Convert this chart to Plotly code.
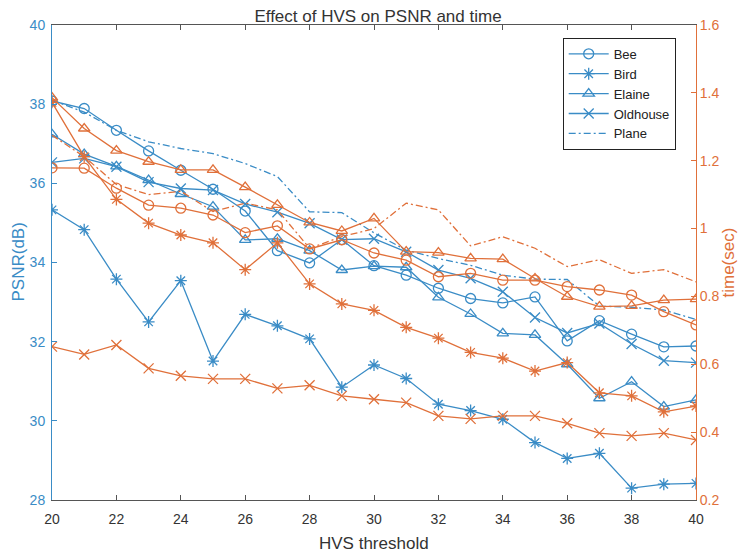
import plotly.graph_objects as go

thresholds = list(range(20, 41))

# PSNR (dB), left axis
bee_psnr = [38.08, 37.89, 37.34, 36.82, 36.33, 35.85, 35.30, 34.30, 33.99, 34.58, 33.92,
            33.68, 33.35, 33.09, 32.98, 33.13, 32.02, 32.53, 32.19, 31.87, 31.89]
bird_psnr = [35.33, 34.83, 33.58, 32.50, 33.54, 31.51, 32.69, 32.40, 32.07, 30.85, 31.41,
             31.07, 30.42, 30.26, 30.04, 29.45, 29.05, 29.18, 28.30, 28.40, 28.42]
elaine_psnr = [37.24, 36.74, 36.43, 36.08, 35.73, 35.41, 34.57, 34.60, 34.30, 33.81, 33.91,
               33.88, 33.12, 32.70, 32.21, 32.17, 31.43, 30.57, 30.99, 30.36, 30.53]
oldhouse_psnr = [36.53, 36.63, 36.42, 36.03, 35.87, 35.83, 35.48, 35.27, 34.99, 34.58, 34.60,
                 34.27, 33.81, 33.60, 33.26, 32.61, 32.22, 32.46, 31.94, 31.52, 31.47]
plane_psnr = [38.10, 37.80, 37.34, 37.05, 36.88, 36.75, 36.50, 36.17, 35.28, 35.26, 34.75,
              34.31, 34.10, 33.93, 33.68, 33.58, 33.57, 32.90, 32.87, 32.80, 32.56]

# time (sec), right axis
bee_time = [1.179, 1.178, 1.119, 1.069, 1.060, 1.040, 0.988, 1.008, 0.940, 0.967, 0.928,
            0.907, 0.858, 0.868, 0.848, 0.848, 0.829, 0.819, 0.804, 0.755, 0.716]
bird_time = [1.372, 1.212, 1.086, 1.016, 0.981, 0.958, 0.879, 0.958, 0.837, 0.778, 0.759,
             0.709, 0.677, 0.635, 0.618, 0.580, 0.605, 0.516, 0.507, 0.460, 0.477]
elaine_time = [1.386, 1.295, 1.230, 1.197, 1.173, 1.173, 1.122, 1.070, 1.018, 0.993, 1.030,
               0.932, 0.929, 0.912, 0.910, 0.853, 0.799, 0.770, 0.772, 0.789, 0.792]
oldhouse_time = [0.652, 0.629, 0.657, 0.588, 0.566, 0.557, 0.557, 0.529, 0.538, 0.507, 0.497,
                 0.487, 0.448, 0.439, 0.448, 0.448, 0.426, 0.397, 0.389, 0.397, 0.377]
plane_time = [1.275, 1.212, 1.130, 1.100, 1.110, 1.050, 1.075, 1.055, 0.942, 0.976, 1.000,
              1.075, 1.055, 0.949, 0.976, 0.942, 0.888, 0.908, 0.868, 0.879, 0.843]

names = ["Bee", "Bird", "Elaine", "Oldhouse", "Plane"]
symbols = ["circle-open", "asterisk-open", "triangle-up-open", "x-thin-open", None]
psnr = [bee_psnr, bird_psnr, elaine_psnr, oldhouse_psnr, plane_psnr]
times = [bee_time, bird_time, elaine_time, oldhouse_time, plane_time]

BLUE = "#3a8cc6"
ORANGE = "#e0703a"
FONT = "Liberation Sans, Arial, sans-serif"
DASHDOT = "7px,3px,2px,3px"

fig = go.Figure()
for name, sym, y in zip(names, symbols, psnr):
    if sym is None:
        fig.add_trace(go.Scatter(x=thresholds, y=y, name=name, mode="lines",
                                 line=dict(color=BLUE, width=1.3, dash=DASHDOT),
                                 yaxis="y"))
    else:
        fig.add_trace(go.Scatter(x=thresholds, y=y, name=name, mode="lines+markers",
                                 line=dict(color=BLUE, width=1.3),
                                 marker=dict(symbol=sym, size=10, color=BLUE,
                                             line=dict(width=1.3, color=BLUE)),
                                 yaxis="y"))
for name, sym, y in zip(names, symbols, times):
    if sym is None:
        fig.add_trace(go.Scatter(x=thresholds, y=y, name=name + " time", mode="lines",
                                 line=dict(color=ORANGE, width=1.3, dash=DASHDOT),
                                 yaxis="y2", showlegend=False))
    else:
        fig.add_trace(go.Scatter(x=thresholds, y=y, name=name + " time", mode="lines+markers",
                                 line=dict(color=ORANGE, width=1.3),
                                 marker=dict(symbol=sym, size=10, color=ORANGE,
                                             line=dict(width=1.3, color=ORANGE)),
                                 yaxis="y2", showlegend=False))

# page body has an 8px margin, so the figure is sized/offset to compensate
fig.update_layout(
    width=740, height=547,
    margin=dict(l=44, r=52, t=17, b=55, autoexpand=False),
    plot_bgcolor="white", paper_bgcolor="white",
    font=dict(family=FONT, size=13, color="#333333"),
    title=dict(text="Effect of HVS on PSNR and time", x=0.5, xanchor="center",
               y=0.996, yanchor="top", yref="container", pad=dict(t=0),
               font=dict(size=17, color="#333333")),
    xaxis=dict(range=[20, 40], tickmode="array", tickvals=list(range(20, 41, 2)),
               ticks="inside", ticklen=5, tickcolor="#555555",
               showline=True, linecolor="#555555", linewidth=1, mirror="ticks",
               showgrid=False, zeroline=False, automargin=False,
               ticklabelstandoff=6,
               tickfont=dict(size=14, color="#333333")),
    yaxis=dict(range=[28, 40], tickmode="array", tickvals=list(range(28, 41, 2)),
               ticks="inside", ticklen=5, tickcolor=BLUE,
               showline=True, linecolor=BLUE, linewidth=1,
               showgrid=False, zeroline=False, automargin=False,
               ticklabelstandoff=3,
               tickfont=dict(size=14, color=BLUE)),
    yaxis2=dict(range=[0.2, 1.6], overlaying="y", side="right",
                tickmode="array", tickvals=[0.2, 0.4, 0.6, 0.8, 1.0, 1.2, 1.4, 1.6],
                ticktext=["0.2", "0.4", "0.6", "0.8", "1", "1.2", "1.4", "1.6"],
                ticks="inside", ticklen=5, tickcolor=ORANGE,
                showline=True, linecolor=ORANGE, linewidth=1,
                showgrid=False, zeroline=False, automargin=False,
                tickfont=dict(size=14, color=ORANGE)),
    legend=dict(x=0.793, y=0.973, xanchor="left", yanchor="top",
                bgcolor="white", bordercolor="#222222", borderwidth=1,
                font=dict(size=13, color="#222222"), tracegroupgap=0,
                itemwidth=40),
    annotations=[
        dict(text="HVS threshold", xref="paper", yref="paper", x=0.5, y=0,
             yshift=-43, xanchor="center", yanchor="middle",
             showarrow=False, font=dict(size=17, color="#333333")),
        dict(text="PSNR(dB)", xref="paper", yref="paper", x=0, y=0.5,
             xshift=-34, xanchor="center", yanchor="middle", textangle=-90,
             showarrow=False, font=dict(size=17, color=BLUE)),
        dict(text="time(sec)", xref="paper", yref="paper", x=1, y=0.5,
             xshift=32, xanchor="center", yanchor="middle", textangle=-90,
             showarrow=False, font=dict(size=17, color=ORANGE)),
    ],
)

fig.write_html("out.html")
